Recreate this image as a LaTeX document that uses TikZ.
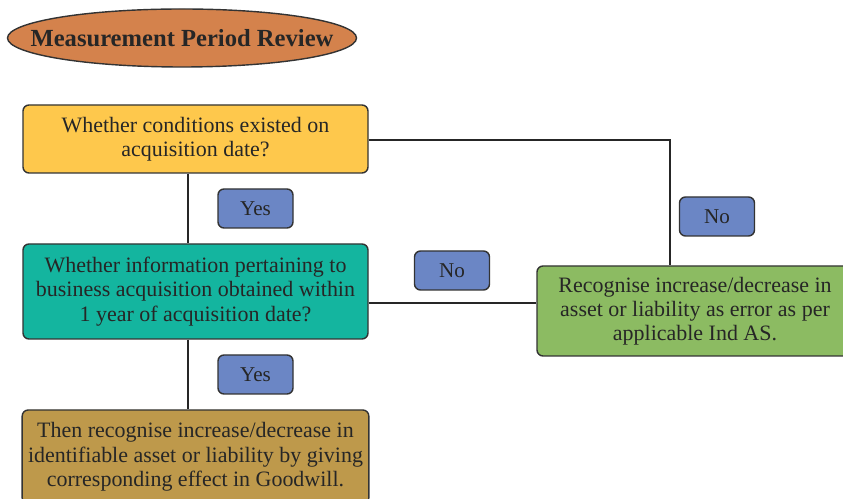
\documentclass[tikz,border=0pt]{standalone}
\usepackage{fontspec}
\setmainfont{Liberation Serif}
\usetikzlibrary{arrows.meta,positioning,calc,shapes.geometric}

\definecolor{headorange}{HTML}{D4824C}
\definecolor{askyellow}{HTML}{FEC84C}
\definecolor{askteal}{HTML}{14B59F}
\definecolor{errgreen}{HTML}{8CBB62}
\definecolor{gwgold}{HTML}{BE994B}
\definecolor{tagblue}{HTML}{6B86C5}
\definecolor{edgegray}{HTML}{333333}

\tikzset{
  stepbox/.style={draw=edgegray, line width=0.8pt, rounded corners=0.12cm,
    minimum width=6.9cm, align=center, text=black!85, font=\fontsize{12.5}{13.8}\selectfont},
  tagbox/.style={draw=edgegray, line width=0.8pt, fill=tagblue, rounded corners=0.12cm,
    minimum width=1.5cm, minimum height=0.78cm, text=black!85, font=\fontsize{12}{13.8}\selectfont},
}

\begin{document}
\begin{tikzpicture}[>=Stealth, line width=0.9pt]
  \useasboundingbox (0,0) rectangle (16.86,9.96);
  \clip (0,0) rectangle (16.86,9.96);
  \node[ellipse, draw=edgegray, line width=0.8pt, fill=headorange, minimum width=6.98cm,
    minimum height=1.16cm, inner sep=0pt] (title) at (3.64,9.20) {};
  \node[text=black!85, font=\fontsize{14}{16}\selectfont\bfseries] (titletext) at (title.center)
    {Measurement Period Review};
  \node[stepbox, fill=askyellow, minimum height=1.36cm] (box1) at (3.91,7.18)
    {Whether conditions existed on\\acquisition date?};
  \node[stepbox, fill=askteal, minimum height=1.9cm] (box2) at (3.91,4.13)
    {Whether information pertaining to\\business acquisition obtained within\\1 year of acquisition date?};
  \node[stepbox, fill=errgreen, minimum width=6.32cm, minimum height=1.8cm] (box3) at (13.9,3.74)
    {Recognise increase/decrease in\\asset or liability as error as per\\applicable Ind AS.};
  \node[stepbox, fill=gwgold, minimum height=1.88cm] (box4) at (3.91,0.82)
    {Then recognise increase/decrease in\\identifiable asset or liability by giving\\corresponding effect in Goodwill.};
  \node[tagbox] (yes1) at (5.11,5.79) {Yes};
  \node[tagbox] (yes2) at (5.11,2.47) {Yes};
  \node[tagbox] (no1) at (14.34,5.63) {No};
  \node[tagbox] (no2) at (9.04,4.55) {No};
  % connectors
  \coordinate (trunk) at (3.76,0);
  \coordinate (turn) at (13.4,7.16);
  \coordinate (across) at (0,3.9);
  \begin{scope}[draw=black!85]
    \draw (box1.south -| trunk) -- (box2.north -| trunk);
    \draw (box2.south -| trunk) -- (box4.north -| trunk);
    \draw (box1.east |- turn) -- (turn) -- (turn |- box3.north);
    \draw (box2.east |- across) -- (box3.west |- across);
  \end{scope}
\end{tikzpicture}
\end{document}
